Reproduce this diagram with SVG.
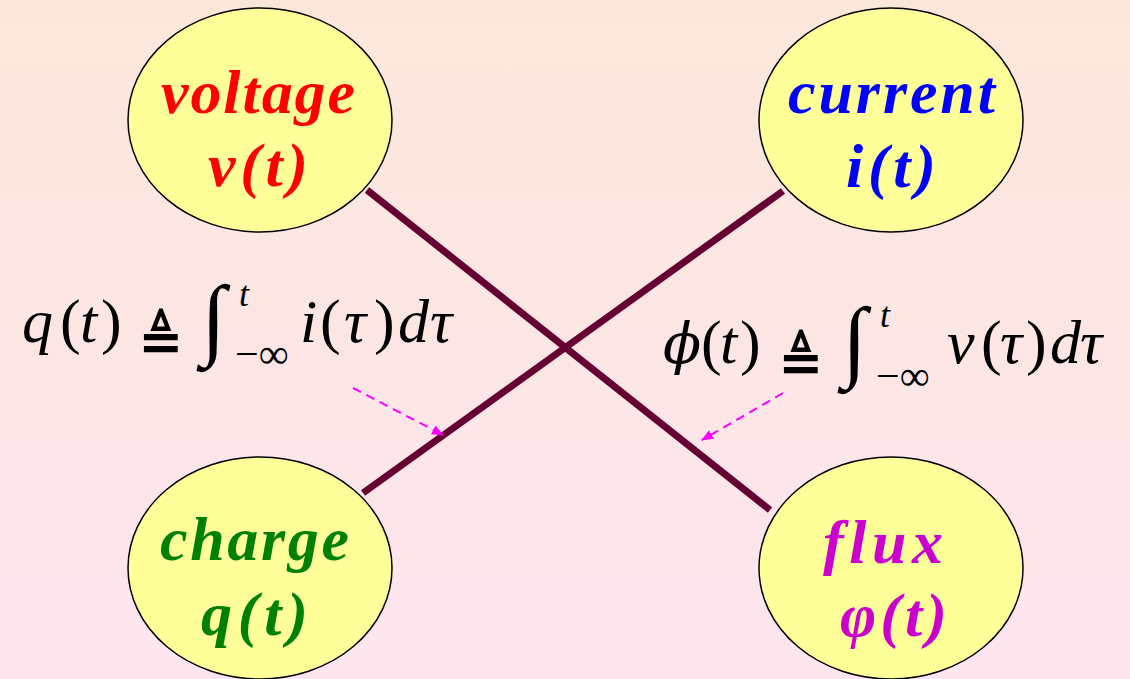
<svg xmlns="http://www.w3.org/2000/svg" width="1130" height="679" viewBox="0 0 1130 679">
<defs>
<linearGradient id="bg" x1="0" y1="0" x2="0" y2="1">
<stop offset="0" stop-color="#FBE7DA"/>
<stop offset="1" stop-color="#FDE5EF"/>
</linearGradient>
<marker id="ah" markerWidth="12" markerHeight="10" refX="11" refY="5" orient="auto" markerUnits="userSpaceOnUse">
<path d="M0,0 L12,5 L0,10 Z" fill="#FF00FF"/>
</marker>
<style>
.node ellipse{fill:#FFFF99;stroke:#000;stroke-width:1.5}
.conn{stroke:#660033;stroke-width:7;fill:none}
.dash{stroke:#FF00FF;stroke-width:2;stroke-dasharray:9 6;fill:none}
</style>
</defs>
<rect x="0" y="0" width="1130" height="679" fill="url(#bg)"/>
<g id="connectors">
<line class="conn" x1="367" y1="190" x2="770" y2="510"/>
<line class="conn" x1="783" y1="191" x2="363" y2="493"/>
<line class="dash" x1="353" y1="388" x2="443" y2="435" marker-end="url(#ah)"/>
<line class="dash" x1="783" y1="393" x2="702" y2="440" marker-end="url(#ah)"/>
</g>
<g font-style="italic" font-weight="bold" font-size="62">
<g id="voltage" class="node">
<ellipse cx="260" cy="120" rx="132" ry="112"/>
<text font-family="Liberation Serif" fill="#FF0000" x="161" y="113" textLength="194" lengthAdjust="spacing">voltage</text>
<text font-family="Liberation Serif" fill="#FF0000" x="208" y="186" textLength="100" lengthAdjust="spacing">v(t)</text>
</g>
<g id="current" class="node">
<ellipse cx="891" cy="120" rx="132" ry="112"/>
<text font-family="Liberation Serif" fill="#0000FF" x="788" y="113" textLength="207" lengthAdjust="spacing">current</text>
<text font-family="Liberation Serif" fill="#0000FF" x="846" y="187" textLength="90" lengthAdjust="spacing">i(t)</text>
</g>
<g id="charge" class="node">
<ellipse cx="260" cy="568" rx="132" ry="111"/>
<text font-family="Liberation Serif" fill="#008000" x="160" y="560" textLength="189" lengthAdjust="spacing">charge</text>
<text font-family="Liberation Serif" fill="#008000" x="201" y="635" textLength="107" lengthAdjust="spacing">q(t)</text>
</g>
<g id="flux" class="node">
<ellipse cx="891" cy="568" rx="132" ry="111"/>
<text font-family="Liberation Serif" fill="#CC00CC" x="823" y="563" textLength="120" lengthAdjust="spacing">flux</text>
<text font-family="Liberation Serif" fill="#CC00CC" x="840" y="636" textLength="107" lengthAdjust="spacing">φ(t)</text>
</g>
</g>
<g fill="#000">
<g id="formula-q">
<text font-family="Liberation Serif" font-style="italic" font-size="62" y="342"><tspan x="22">q</tspan><tspan font-style="normal" x="60">(</tspan><tspan x="80">t</tspan><tspan font-style="normal" x="101">)</tspan></text>
<text font-family="DejaVu Sans" font-weight="bold" font-size="54" x="138" y="360">≜</text>
<text font-family="Liberation Serif" font-size="90" x="201" y="348">∫</text>
<text font-family="Liberation Serif" font-style="italic" font-size="36" x="239" y="306">t</text>
<text font-family="Liberation Serif" font-size="42" x="235" y="368">−∞</text>
<text font-family="Liberation Serif" font-style="italic" font-size="62" y="342"><tspan x="300">i</tspan><tspan font-style="normal" x="320">(</tspan><tspan x="344">τ</tspan><tspan font-style="normal" x="374">)</tspan><tspan x="398">d</tspan><tspan x="430">τ</tspan></text>
</g>
<g id="formula-phi">
<text font-family="DejaVu Serif" font-style="italic" font-size="56" x="663" y="363">ϕ</text>
<text font-family="Liberation Serif" font-style="italic" font-size="62" y="363"><tspan font-style="normal" x="701">(</tspan><tspan x="720">t</tspan><tspan font-style="normal" x="740">)</tspan></text>
<text font-family="DejaVu Sans" font-weight="bold" font-size="54" x="778" y="381">≜</text>
<text font-family="Liberation Serif" font-size="90" x="842" y="370">∫</text>
<text font-family="Liberation Serif" font-style="italic" font-size="36" x="880" y="327">t</text>
<text font-family="Liberation Serif" font-size="42" x="876" y="390">−∞</text>
<text font-family="Liberation Serif" font-style="italic" font-size="62" y="363"><tspan x="947">v</tspan><tspan font-style="normal" x="981">(</tspan><tspan x="1000">τ</tspan><tspan font-style="normal" x="1026">)</tspan><tspan x="1050">d</tspan><tspan x="1080">τ</tspan></text>
</g>
</g>
</svg>
